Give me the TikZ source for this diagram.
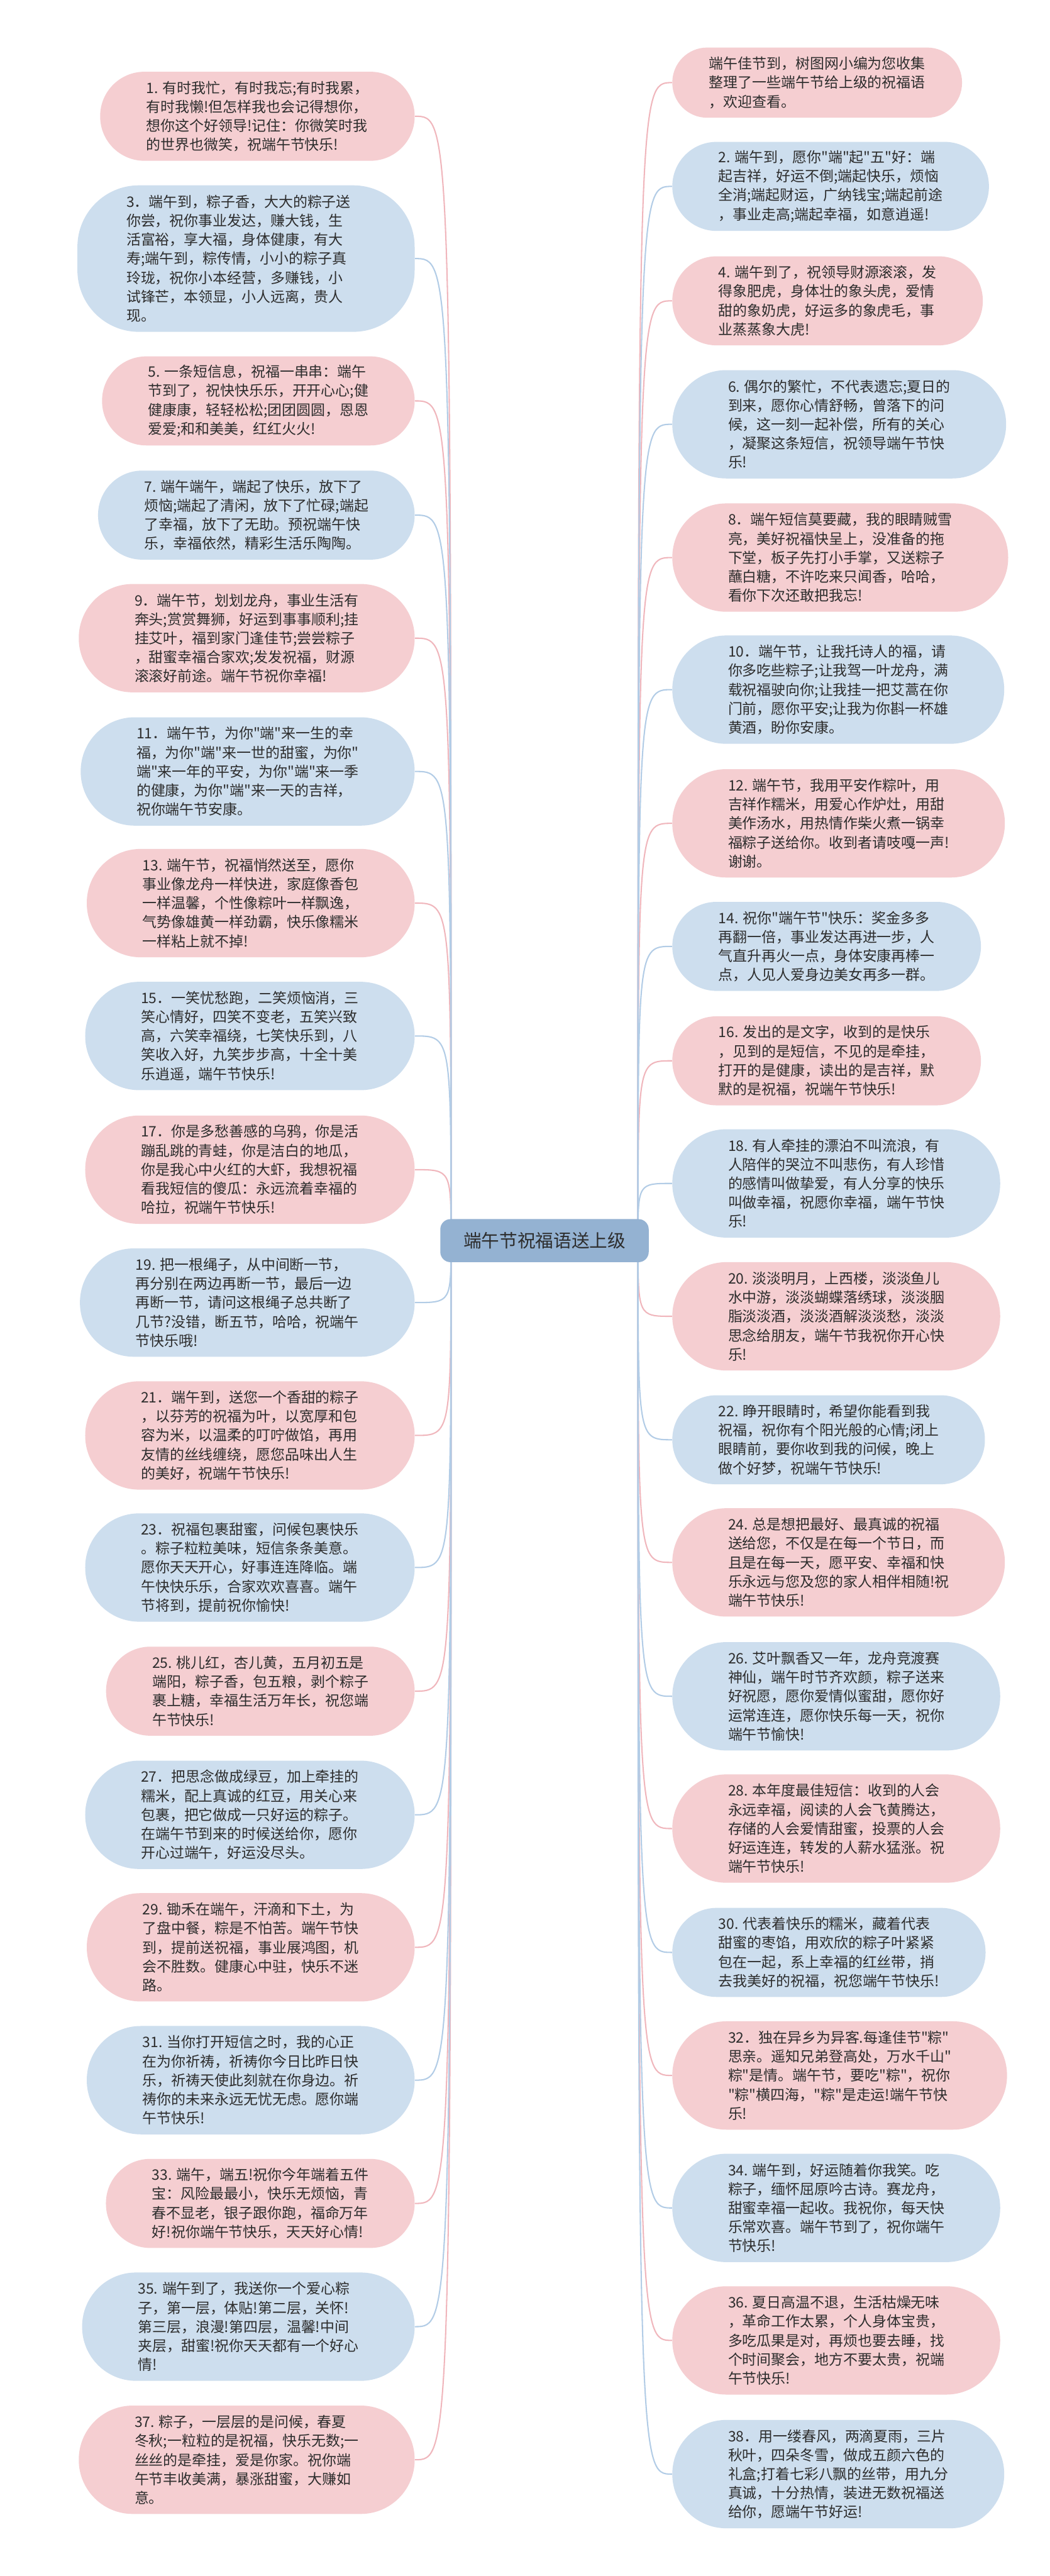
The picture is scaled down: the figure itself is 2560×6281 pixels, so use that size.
\documentclass[tikz,border=0pt]{standalone}
\usepackage{fontspec}
\setmainfont{Noto Sans CJK SC}[Ligatures=TeXOff]
\usetikzlibrary{backgrounds}
\definecolor{pk}{RGB}{245,206,209}
\definecolor{bl}{RGB}{205,222,238}
\definecolor{pkl}{RGB}{240,182,188}
\definecolor{bll}{RGB}{178,204,230}
\definecolor{txt}{RGB}{45,45,45}
\definecolor{cfill}{RGB}{148,178,210}
\begin{document}
\begin{tikzpicture}[x=0.01cm,y=-0.01cm,
  base/.style={rectangle, inner ysep=0pt, align=left, text=txt,
    font=\fontsize{10}{13.17}\selectfont},
  pknode/.style={base, fill=pk},
  blnode/.style={base, fill=bl},
  L/.style={anchor=east},
  R/.style={anchor=west},
  h3/.style={minimum height=1.71cm, inner xsep=0.895cm, rounded corners=0.85cm},
  h4/.style={minimum height=2.17cm, inner xsep=1.125cm, rounded corners=1.08cm},
  h5/.style={minimum height=2.64cm, inner xsep=1.36cm, rounded corners=1.315cm},
  pkline/.style={draw=pkl, line width=0.9pt},
  blline/.style={draw=bll, line width=0.9pt},
  centre/.style={rectangle, rounded corners=0.25cm, fill=cfill, text=txt, minimum width=5.08cm,
    minimum height=1.05cm, font=\fontsize{12.5}{15}\selectfont}
]
\useasboundingbox (0,0) rectangle (2560,6281);

\node[centre] (c) at (1328,3025) {端午节祝福语送上级};
\coordinate (sl) at (1100,3025);
\coordinate (sr) at (1556,3025);

% ---------------- left column ----------------
\node[pknode,h4,L] (n1) at (1012,283.5) {1. 有时我忙，有时我忘;有时我累，\\有时我懒!但怎样我也会记得想你，\\想你这个好领导!记住：你微笑时我\\的世界也微笑，祝端午节快乐!};
\node[blnode,L,minimum width=8.22cm,minimum height=3.57cm,rounded corners=1.5cm] (n3) at (1012,630.5) {};
\node[base,anchor=west] (n3t) at (296,630.5) {3．端午到，粽子香，大大的粽子送\\你尝，祝你事业发达，赚大钱，生\\活富裕，享大福，身体健康，有大\\寿;端午到，粽传情，小小的粽子真\\玲珑，祝你小本经营，多赚钱，小\\试锋芒，本领显，小人远离，贵人\\现。};
\node[pknode,h4,L] (n5) at (1012,977.5) {5. 一条短信息，祝福一串串：端午\\节到了，祝快快乐乐，开开心心;健\\健康康，轻轻松松;团团圆圆，恩恩\\爱爱;和和美美，红红火火!};
\node[blnode,h4,L] (n7) at (1012,1256) {7. 端午端午，端起了快乐，放下了\\烦恼;端起了清闲，放下了忙碌;端起\\了幸福，放下了无助。预祝端午快\\乐，幸福依然，精彩生活乐陶陶。};
\node[pknode,h5,L] (n9) at (1012,1556) {9．端午节，划划龙舟，事业生活有\\奔头;赏赏舞狮，好运到事事顺利;挂\\挂艾叶，福到家门逢佳节;尝尝粽子\\，甜蜜幸福合家欢;发发祝福，财源\\滚滚好前途。端午节祝你幸福!};
\node[blnode,h5,L] (n11) at (1012,1881) {11．端午节，为你"端"来一生的幸\\福，为你"端"来一世的甜蜜，为你"\\端"来一年的平安，为你"端"来一季\\的健康，为你"端"来一天的吉祥，\\祝你端午节安康。};
\node[pknode,h5,L] (n13) at (1012,2202) {13. 端午节，祝福悄然送至，愿你\\事业像龙舟一样快进，家庭像香包\\一样温馨，个性像粽叶一样飘逸，\\气势像雄黄一样劲霸，快乐像糯米\\一样粘上就不掉!};
\node[blnode,h5,L] (n15) at (1012,2526) {15．一笑忧愁跑，二笑烦恼消，三\\笑心情好，四笑不变老，五笑兴致\\高，六笑幸福绕，七笑快乐到，八\\笑收入好，九笑步步高，十全十美\\乐逍遥，端午节快乐!};
\node[pknode,h5,L] (n17) at (1012,2852) {17．你是多愁善感的乌鸦，你是活\\蹦乱跳的青蛙，你是洁白的地瓜，\\你是我心中火红的大虾，我想祝福\\看我短信的傻瓜：永远流着幸福的\\哈拉，祝端午节快乐!};
\node[blnode,h5,L] (n19) at (1012,3176) {19. 把一根绳子，从中间断一节，\\再分别在两边再断一节，最后一边\\再断一节，请问这根绳子总共断了\\几节?没错，断五节，哈哈，祝端午\\节快乐哦!};
\node[pknode,h5,L] (n21) at (1012,3500) {21．端午到，送您一个香甜的粽子\\，以芬芳的祝福为叶，以宽厚和包\\容为米，以温柔的叮咛做馅，再用\\友情的丝线缠绕，愿您品味出人生\\的美好，祝端午节快乐!};
\node[blnode,h5,L] (n23) at (1012,3822) {23．祝福包裹甜蜜，问候包裹快乐\\。粽子粒粒美味，短信条条美意。\\愿你天天开心，好事连连降临。端\\午快快乐乐，合家欢欢喜喜。端午\\节将到，提前祝你愉快!};
\node[pknode,h4,L] (n25) at (1012,4123.5) {25. 桃儿红，杏儿黄，五月初五是\\端阳，粽子香，包五粮，剥个粽子\\裹上糖，幸福生活万年长，祝您端\\午节快乐!};
\node[blnode,h5,L] (n27) at (1012,4425) {27．把思念做成绿豆，加上牵挂的\\糯米，配上真诚的红豆，用关心来\\包裹，把它做成一只好运的粽子。\\在端午节到来的时候送给你，愿你\\开心过端午，好运没尽头。};
\node[pknode,h5,L] (n29) at (1012,4748) {29. 锄禾在端午，汗滴和下土，为\\了盘中餐，粽是不怕苦。端午节快\\到，提前送祝福，事业展鸿图，机\\会不胜数。健康心中驻，快乐不迷\\路。};
\node[blnode,h5,L] (n31) at (1012,5072) {31. 当你打开短信之时，我的心正\\在为你祈祷，祈祷你今日比昨日快\\乐，祈祷天使此刻就在你身边。祈\\祷你的未来永远无忧无虑。愿你端\\午节快乐!};
\node[pknode,h4,L] (n33) at (1012,5372.5) {33. 端午，端五!祝你今年端着五件\\宝：风险最最小，快乐无烦恼，青\\春不显老，银子跟你跑，福命万年\\好!祝你端午节快乐，天天好心情!};
\node[blnode,h5,L] (n35) at (1012,5673) {35. 端午到了，我送你一个爱心粽\\子，第一层，体贴!第二层，关怀!\\第三层，浪漫!第四层，温馨!中间\\夹层，甜蜜!祝你天天都有一个好心\\情!};
\node[pknode,h5,L] (n37) at (1012,5997.5) {37. 粽子，一层层的是问候，春夏\\冬秋;一粒粒的是祝福，快乐无数;一\\丝丝的是牵挂，爱是你家。祝你端\\午节丰收美满，暴涨甜蜜，大赚如\\意。};

% ---------------- right column ----------------
\node[pknode,h3,R] (n0) at (1639,201.5) {端午佳节到，树图网小编为您收集\\整理了一些端午节给上级的祝福语\\，欢迎查看。};
\node[blnode,h4,R] (n2) at (1639,454.5) {2. 端午到，愿你"端"起"五"好：端\\起吉祥，好运不倒;端起快乐，烦恼\\全消;端起财运，广纳钱宝;端起前途\\，事业走高;端起幸福，如意逍遥!};
\node[pknode,h4,R] (n4) at (1639,733.5) {4. 端午到了，祝领导财源滚滚，发\\得象肥虎，身体壮的象头虎，爱情\\甜的象奶虎，好运多的象虎毛，事\\业蒸蒸象大虎!};
\node[blnode,h5,R] (n6) at (1639,1034.5) {6. 偶尔的繁忙，不代表遗忘;夏日的\\到来，愿你心情舒畅，曾落下的问\\候，这一刻一起补偿，所有的关心\\，凝聚这条短信，祝领导端午节快\\乐!};
\node[pknode,h5,R] (n8) at (1639,1359.5) {8．端午短信莫要藏，我的眼睛贼雪\\亮，美好祝福快呈上，没准备的拖\\下堂，板子先打小手掌，又送粽子\\蘸白糖，不许吃来只闻香，哈哈，\\看你下次还敢把我忘!};
\node[blnode,h5,R] (n10) at (1639,1681.5) {10．端午节，让我托诗人的福，请\\你多吃些粽子;让我驾一叶龙舟，满\\载祝福驶向你;让我挂一把艾蒿在你\\门前，愿你平安;让我为你斟一杯雄\\黄酒，盼你安康。};
\node[pknode,h5,R] (n12) at (1639,2007.5) {12. 端午节，我用平安作粽叶，用\\吉祥作糯米，用爱心作炉灶，用甜\\美作汤水，用热情作柴火煮一锅幸\\福粽子送给你。收到者请吱嘎一声!\\谢谢。};
\node[blnode,h4,R] (n14) at (1639,2307.5) {14. 祝你"端午节"快乐：奖金多多\\再翻一倍，事业发达再进一步，人\\气直升再火一点，身体安康再棒一\\点，人见人爱身边美女再多一群。};
\node[pknode,h4,R] (n16) at (1639,2586.5) {16. 发出的是文字，收到的是快乐\\，见到的是短信，不见的是牵挂，\\打开的是健康，读出的是吉祥，默\\默的是祝福，祝端午节快乐!};
\node[blnode,h5,R] (n18) at (1639,2885.5) {18. 有人牵挂的漂泊不叫流浪，有\\人陪伴的哭泣不叫悲伤，有人珍惜\\的感情叫做挚爱，有人分享的快乐\\叫做幸福，祝愿你幸福，端午节快\\乐!};
\node[pknode,h5,R] (n20) at (1639,3209.5) {20. 淡淡明月，上西楼，淡淡鱼儿\\水中游，淡淡蝴蝶落绣球，淡淡胭\\脂淡淡酒，淡淡酒解淡淡愁，淡淡\\思念给朋友，端午节我祝你开心快\\乐!};
\node[blnode,h4,R] (n22) at (1639,3510.5) {22. 睁开眼睛时，希望你能看到我\\祝福，祝你有个阳光般的心情;闭上\\眼睛前，要你收到我的问候，晚上\\做个好梦，祝端午节快乐!};
\node[pknode,h5,R] (n24) at (1639,3809.5) {24. 总是想把最好、最真诚的祝福\\送给您，不仅是在每一个节日，而\\且是在每一天，愿平安、幸福和快\\乐永远与您及您的家人相伴相随!祝\\端午节快乐!};
\node[blnode,h5,R] (n26) at (1639,4136) {26. 艾叶飘香又一年，龙舟竞渡赛\\神仙，端午时节齐欢颜，粽子送来\\好祝愿，愿你爱情似蜜甜，愿你好\\运常连连，愿你快乐每一天，祝你\\端午节愉快!};
\node[pknode,h5,R] (n28) at (1639,4458.5) {28. 本年度最佳短信：收到的人会\\永远幸福，阅读的人会飞黄腾达，\\存储的人会爱情甜蜜，投票的人会\\好运连连，转发的人薪水猛涨。祝\\端午节快乐!};
\node[blnode,h4,R] (n30) at (1639,4760.5) {30. 代表着快乐的糯米，藏着代表\\甜蜜的枣馅，用欢欣的粽子叶紧紧\\包在一起，系上幸福的红丝带，捎\\去我美好的祝福，祝您端午节快乐!};
\node[pknode,h5,R] (n32) at (1639,5060.5) {32．独在异乡为异客.每逢佳节"粽"\\思亲。遥知兄弟登高处，万水千山"\\粽"是情。端午节，要吃"粽"，祝你\\"粽"横四海，"粽"是走运!端午节快\\乐!};
\node[blnode,h5,R] (n34) at (1639,5383.5) {34. 端午到，好运随着你我笑。吃\\粽子，缅怀屈原吟古诗。赛龙舟，\\甜蜜幸福一起收。我祝你，每天快\\乐常欢喜。端午节到了，祝你端午\\节快乐!};
\node[pknode,h5,R] (n36) at (1639,5706.5) {36. 夏日高温不退，生活枯燥无味\\，革命工作太累，个人身体宝贵，\\多吃瓜果是对，再烦也要去睡，找\\个时间聚会，地方不要太贵，祝端\\午节快乐!};
\node[blnode,h5,R] (n38) at (1639,6032.5) {38．用一缕春风，两滴夏雨，三片\\秋叶，四朵冬雪，做成五颜六色的\\礼盒;打着七彩八飘的丝带，用九分\\真诚，十分热情，装进无数祝福送\\给你，愿端午节好运!};

% ---------------- connectors (behind the nodes) ----------------
\begin{scope}[on background layer]
\fill[white] (0,0) rectangle (2560,6281);
\foreach \n in {n1,n5,n9,n13,n17,n21,n25,n29,n33,n37}
  \draw[pkline] (sl) .. controls (sl |- \n.east) .. (\n.east);
\foreach \n in {n3,n7,n11,n15,n19,n23,n27,n31,n35}
  \draw[blline] (sl) .. controls (sl |- \n.east) .. (\n.east);
\foreach \n in {n0,n4,n8,n12,n16,n20,n24,n28,n32,n36}
  \draw[pkline] (sr) .. controls (sr |- \n.west) .. (\n.west);
\foreach \n in {n2,n6,n10,n14,n18,n22,n26,n30,n34,n38}
  \draw[blline] (sr) .. controls (sr |- \n.west) .. (\n.west);
\end{scope}
\end{tikzpicture}
\end{document}
